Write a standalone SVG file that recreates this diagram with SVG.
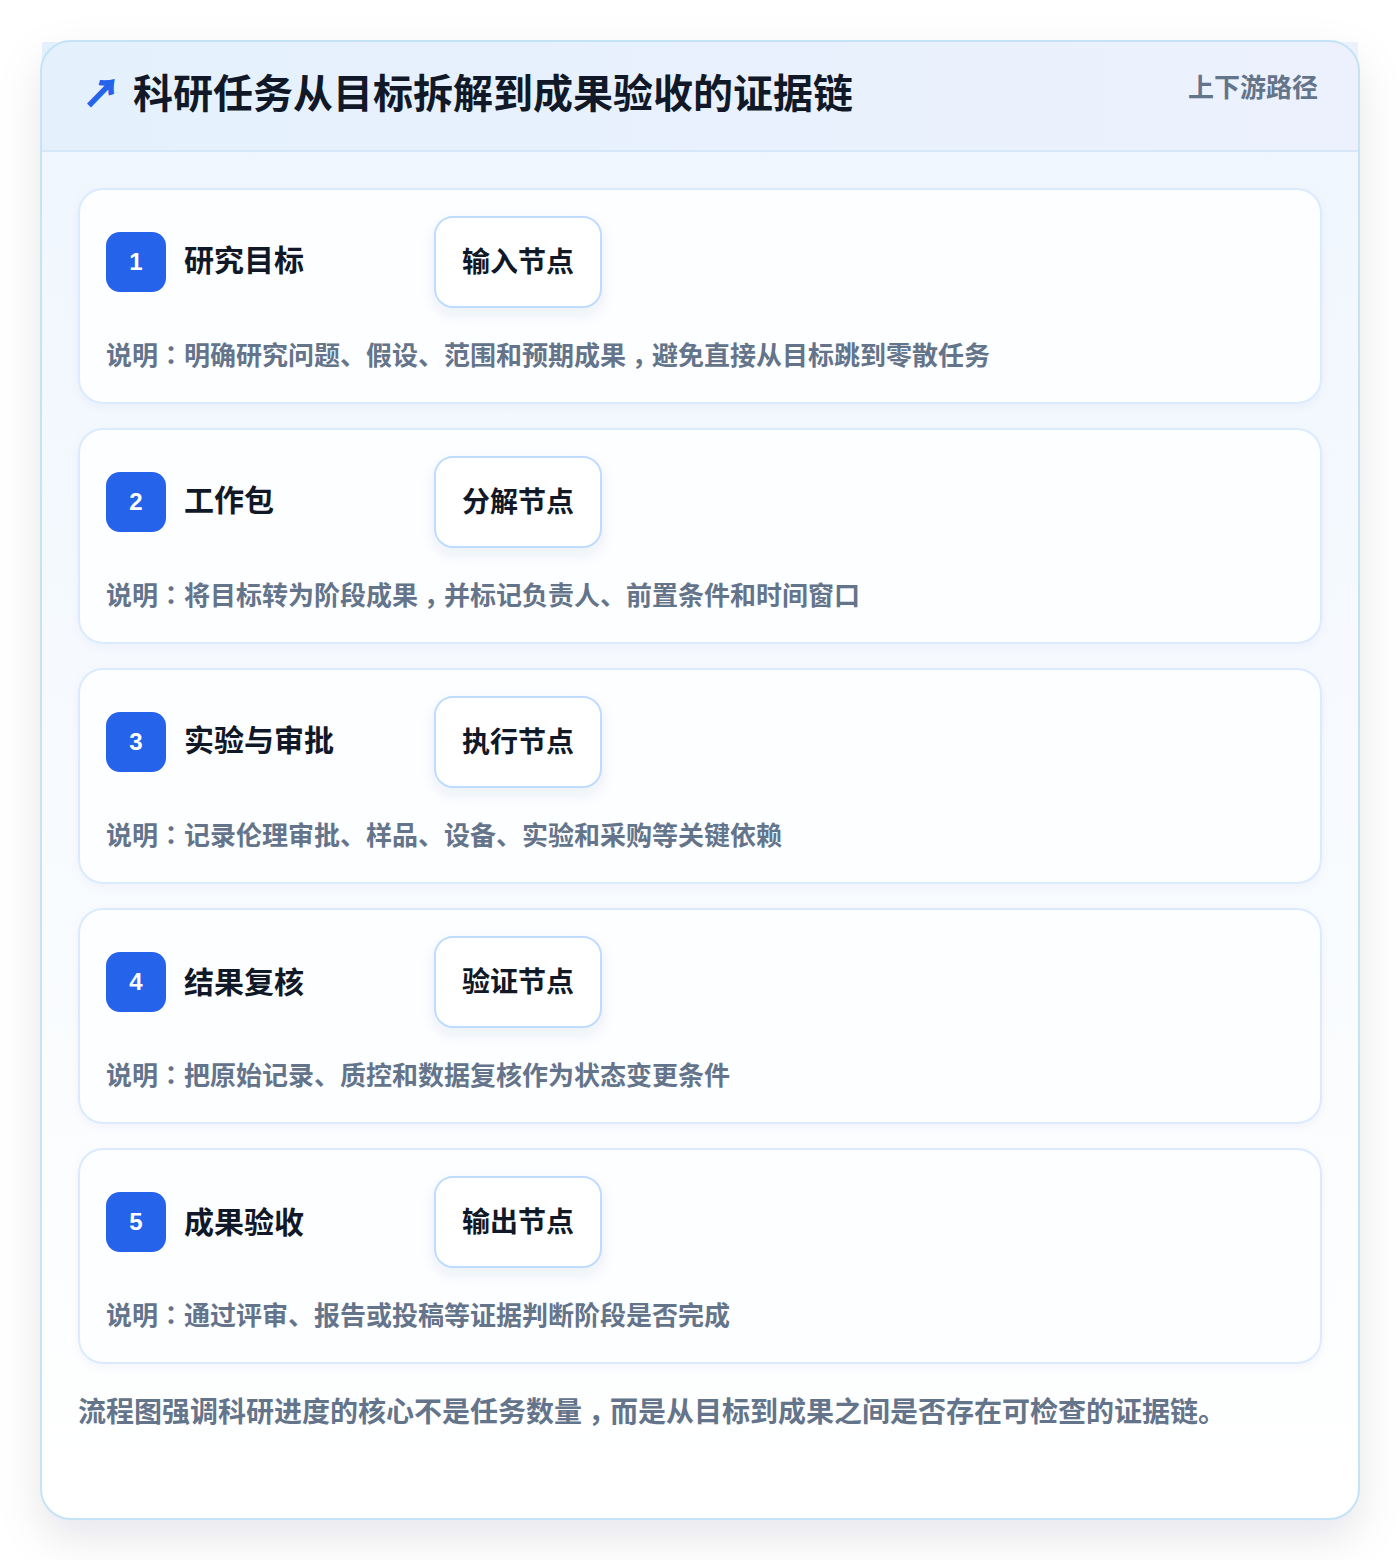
<svg xmlns="http://www.w3.org/2000/svg" width="1400" height="1560" viewBox="0 0 1400 1560">
<defs>
<filter id="outerShadow" x="-10%" y="-10%" width="120%" height="120%">
<feDropShadow dx="0" dy="18" stdDeviation="22" flood-color="#0f172a" flood-opacity="0.10"/>
</filter>
<filter id="nodeShadow" x="-20%" y="-20%" width="140%" height="160%">
<feDropShadow dx="0" dy="6" stdDeviation="7" flood-color="#1e3a8a" flood-opacity="0.08"/>
</filter>
<filter id="cardShadow" x="-5%" y="-10%" width="110%" height="130%">
<feDropShadow dx="0" dy="3" stdDeviation="5" flood-color="#1e3a8a" flood-opacity="0.04"/>
</filter>
<linearGradient id="bodyGrad" x1="0" y1="0" x2="0" y2="1">
<stop offset="0" stop-color="#eff6fe"/>
<stop offset="0.55" stop-color="#f8fbfe"/>
<stop offset="1" stop-color="#ffffff"/>
</linearGradient>
<linearGradient id="headGrad" x1="0" y1="0" x2="1" y2="0">
<stop offset="0" stop-color="#e4f1fd"/>
<stop offset="1" stop-color="#ecf1fd"/>
</linearGradient>
</defs>
<style>
.cjk{font-family:"Noto Sans CJK SC","Liberation Sans",sans-serif}
.p{font-family:"Noto Sans CJK TC","Noto Sans CJK SC",sans-serif}
.title{font-size:40px;font-weight:700;fill:#111827}
.sub{font-size:26px;font-weight:600;fill:#64748b}
.card{fill:#fdfeff;stroke:#dbeafe;stroke-width:2}
.badge{fill:#2563eb}
.num{font-family:"Liberation Sans",Arial,sans-serif;font-size:24px;font-weight:700;fill:#ffffff}
.stitle{font-size:30px;font-weight:700;fill:#111827}
.node{fill:#ffffff;stroke:#bfdbfe;stroke-width:2}
.ntext{font-size:28px;font-weight:700;fill:#111827}
.desc{font-size:26px;font-weight:600;fill:#64748b}
.foot{font-size:28px;font-weight:600;fill:#64748b}
</style>
<rect width="1400" height="1560" fill="#ffffff"/>
<g id="frame">
<rect x="41" y="41" width="1318" height="1478" rx="30" fill="url(#bodyGrad)" filter="url(#outerShadow)"/>
<rect x="42" y="42" width="1316" height="109" fill="url(#headGrad)"/>
<line x1="42" y1="151" x2="1358" y2="151" stroke="#d6e7f8" stroke-width="2"/>
<rect x="41" y="41" width="1318" height="1478" rx="30" fill="none" stroke="#c4e3f6" stroke-width="2"/>
</g>
<g id="header">
<text class="cjk" x="83" y="107" font-size="37" font-weight="700" fill="#2563eb" stroke="#2563eb" stroke-width="1.6">↗</text>
<text class="cjk title" x="133" y="108">科研任务从目标拆解到成果验收的证据链</text>
<text class="cjk sub" x="1318" y="97" text-anchor="end">上下游路径</text>
</g>
<g id="connectors"></g>
<g id="step1">
<rect class="card" x="79" y="189" width="1242" height="214" rx="24" filter="url(#cardShadow)"/>
<rect class="badge" x="106" y="232" width="60" height="60" rx="14"/>
<text class="num" x="136" y="270" text-anchor="middle">1</text>
<text class="cjk stitle" x="184" y="271">研究目标</text>
<rect class="node" x="435" y="217" width="166" height="90" rx="18" filter="url(#nodeShadow)"/>
<text class="cjk ntext" x="518" y="272" text-anchor="middle">输入节点</text>
<text class="cjk desc" x="106" y="365">说明<tspan class="p">：</tspan>明确研究问题、假设、范围和预期成果<tspan class="p" dy="8">，</tspan><tspan dy="-8">避免直接从目标跳到零散任务</tspan></text>
</g>
<g id="step2">
<rect class="card" x="79" y="429" width="1242" height="214" rx="24" filter="url(#cardShadow)"/>
<rect class="badge" x="106" y="472" width="60" height="60" rx="14"/>
<text class="num" x="136" y="510" text-anchor="middle">2</text>
<text class="cjk stitle" x="184" y="511">工作包</text>
<rect class="node" x="435" y="457" width="166" height="90" rx="18" filter="url(#nodeShadow)"/>
<text class="cjk ntext" x="518" y="512" text-anchor="middle">分解节点</text>
<text class="cjk desc" x="106" y="605">说明<tspan class="p">：</tspan>将目标转为阶段成果<tspan class="p" dy="8">，</tspan><tspan dy="-8">并标记负责人、前置条件和时间窗口</tspan></text>
</g>
<g id="step3">
<rect class="card" x="79" y="669" width="1242" height="214" rx="24" filter="url(#cardShadow)"/>
<rect class="badge" x="106" y="712" width="60" height="60" rx="14"/>
<text class="num" x="136" y="750" text-anchor="middle">3</text>
<text class="cjk stitle" x="184" y="751">实验与审批</text>
<rect class="node" x="435" y="697" width="166" height="90" rx="18" filter="url(#nodeShadow)"/>
<text class="cjk ntext" x="518" y="752" text-anchor="middle">执行节点</text>
<text class="cjk desc" x="106" y="845">说明<tspan class="p">：</tspan>记录伦理审批、样品、设备、实验和采购等关键依赖</text>
</g>
<g id="step4">
<rect class="card" x="79" y="909" width="1242" height="214" rx="24" filter="url(#cardShadow)"/>
<rect class="badge" x="106" y="952" width="60" height="60" rx="14"/>
<text class="num" x="136" y="990" text-anchor="middle">4</text>
<text class="cjk stitle" x="184" y="993">结果复核</text>
<rect class="node" x="435" y="937" width="166" height="90" rx="18" filter="url(#nodeShadow)"/>
<text class="cjk ntext" x="518" y="992" text-anchor="middle">验证节点</text>
<text class="cjk desc" x="106" y="1085">说明<tspan class="p">：</tspan>把原始记录、质控和数据复核作为状态变更条件</text>
</g>
<g id="step5">
<rect class="card" x="79" y="1149" width="1242" height="214" rx="24" filter="url(#cardShadow)"/>
<rect class="badge" x="106" y="1192" width="60" height="60" rx="14"/>
<text class="num" x="136" y="1230" text-anchor="middle">5</text>
<text class="cjk stitle" x="184" y="1233">成果验收</text>
<rect class="node" x="435" y="1177" width="166" height="90" rx="18" filter="url(#nodeShadow)"/>
<text class="cjk ntext" x="518" y="1232" text-anchor="middle">输出节点</text>
<text class="cjk desc" x="106" y="1325">说明<tspan class="p">：</tspan>通过评审、报告或投稿等证据判断阶段是否完成</text>
</g>
<g id="footer">
<text class="cjk foot" x="78" y="1422">流程图强调科研进度的核心不是任务数量<tspan class="p" dy="9">，</tspan><tspan dy="-9">而是从目标到成果之间是否存在可检查的证据链。</tspan></text>
</g>
</svg>
